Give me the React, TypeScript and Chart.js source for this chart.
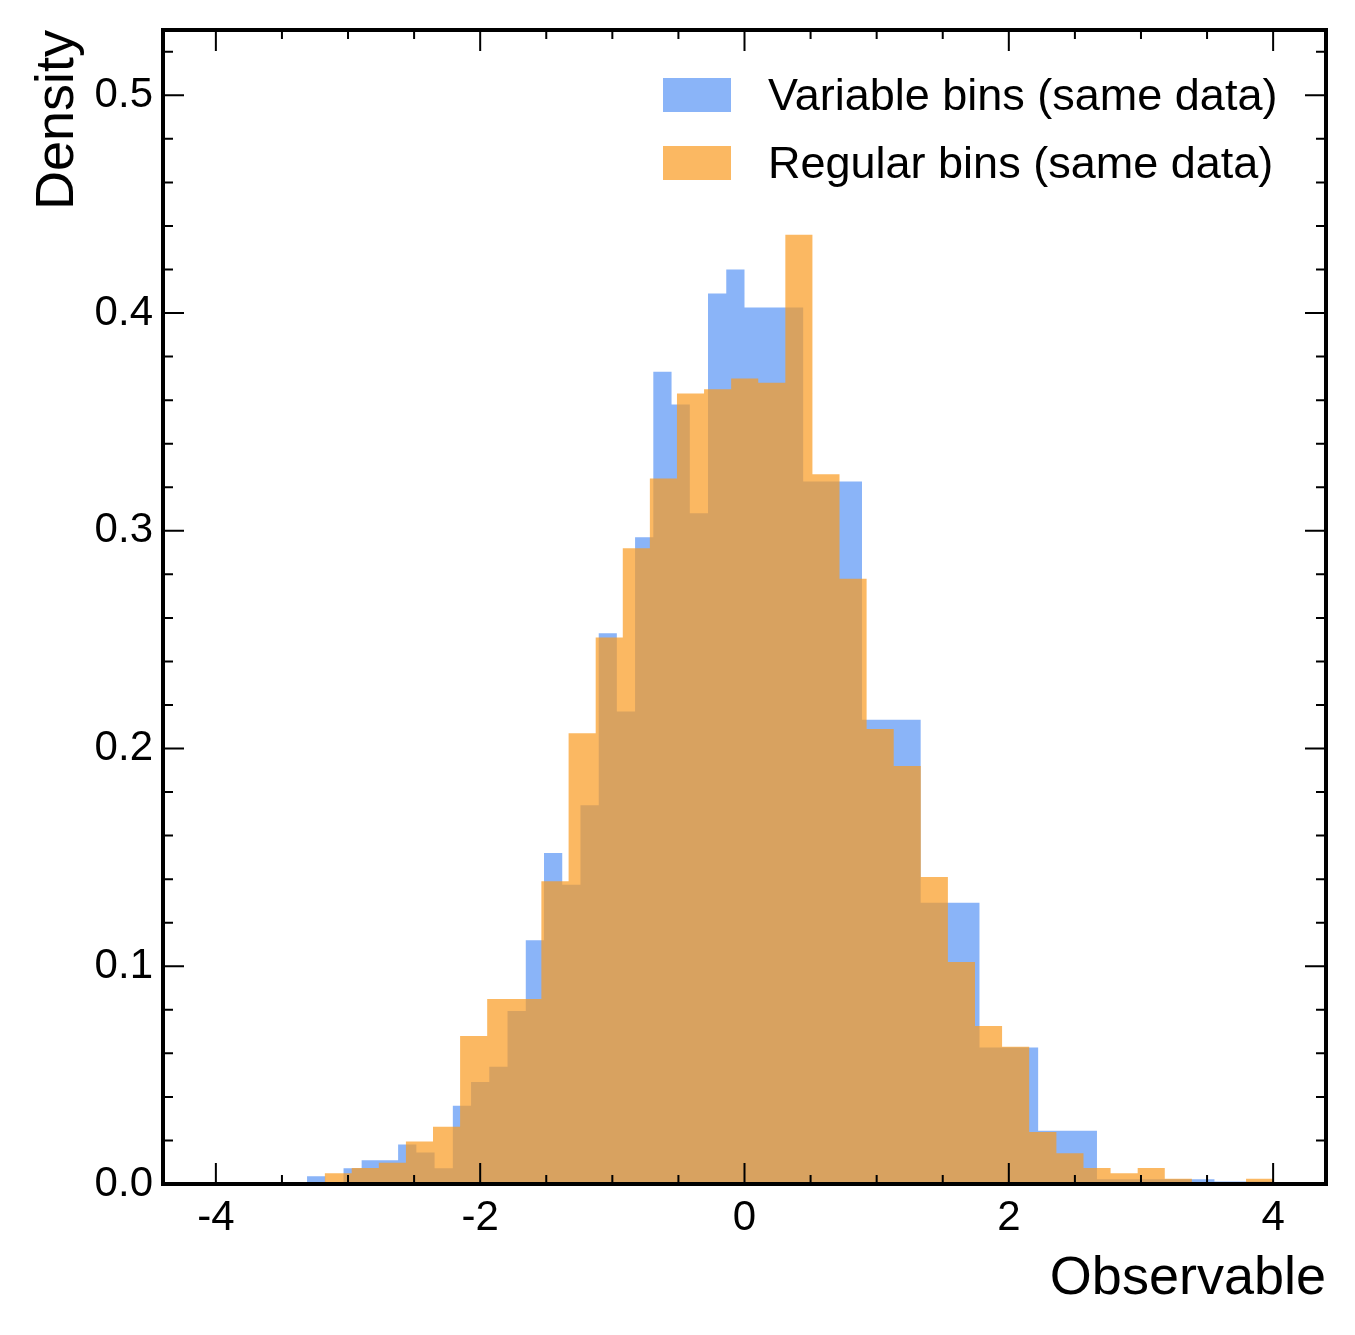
import { useEffect, useRef } from "react";
import { Chart, registerables } from "chart.js";

Chart.register(...registerables);

// variable binning: fine steps left of zero, coarse steps right of zero
const variableEdges = [
  -4.0, -3.862, -3.724, -3.586, -3.448, -3.31, -3.172, -3.034, -2.897, -2.759,
  -2.621, -2.483, -2.345, -2.207, -2.069, -1.931, -1.793, -1.655, -1.517, -1.379,
  -1.241, -1.103, -0.966, -0.828, -0.69, -0.552, -0.414, -0.276, -0.138, 0.0,
  0.444, 0.889, 1.333, 1.778, 2.222, 2.667, 3.111, 3.556, 4.0,
];
const variableDensity = [
  0, 0, 0, 0, 0, 0.0036, 0, 0.0072, 0.0109, 0.0109,
  0.0181, 0.0145, 0.0072, 0.0359, 0.0469, 0.0538, 0.0795, 0.112, 0.152, 0.1374,
  0.174, 0.253, 0.217, 0.297, 0.373, 0.358, 0.308, 0.409, 0.42,
  0.4026, 0.3226, 0.2132, 0.1292, 0.0627, 0.0244, 0.0022, 0.0022, 0.0011,
];

// regular binning: 35 equal bins from data min to max
const regularEdges = [
  -3.177, -2.972, -2.767, -2.562, -2.357, -2.152, -1.947, -1.742, -1.537, -1.331,
  -1.126, -0.921, -0.716, -0.511, -0.306, -0.101, 0.104, 0.309, 0.514, 0.719,
  0.924, 1.129, 1.334, 1.539, 1.744, 1.949, 2.154, 2.36, 2.565, 2.77,
  2.975, 3.18, 3.385, 3.59, 3.795, 4.0,
];
const regularDensity = [
  0.0049, 0.0073, 0.0098, 0.0195, 0.0263, 0.068, 0.085, 0.085, 0.139, 0.207,
  0.251, 0.292, 0.324, 0.363, 0.365, 0.37, 0.368, 0.436, 0.326, 0.278,
  0.209, 0.192, 0.141, 0.102, 0.0726, 0.063, 0.0239, 0.0141, 0.0073, 0.0049,
  0.0073, 0.0024, 0, 0, 0.0024,
];

const xTicks = [-4, -2, 0, 2, 4];
const yTicks = [0, 0.1, 0.2, 0.3, 0.4, 0.5];
const seriesLabels = ["Variable bins (same data)", "Regular bins (same data)"];

const BLUE = "#8ab4f8";
const ORANGE = "rgba(249, 154, 31, 0.7)";
const FONT = "'Liberation Sans', Arial, Helvetica, sans-serif";

function stepPoints(edges: number[], density: number[]) {
  const pts = density.map((d, i) => ({ x: edges[i], y: d }));
  pts.push({ x: edges[edges.length - 1], y: 0 });
  return pts;
}

const framePlugin = {
  id: "frame",
  afterDraw(chart: any) {
    const { ctx, chartArea } = chart;
    const { left, right, top, bottom } = chartArea;
    const xs = chart.scales.x;
    const ys = chart.scales.y;
    ctx.save();
    ctx.strokeStyle = "#000";
    ctx.lineWidth = 2;

    const vTick = (px: number, len: number) => {
      ctx.beginPath();
      ctx.moveTo(px, bottom);
      ctx.lineTo(px, bottom - len);
      ctx.moveTo(px, top);
      ctx.lineTo(px, top + len);
      ctx.stroke();
    };
    const hTick = (py: number, len: number) => {
      ctx.beginPath();
      ctx.moveTo(left, py);
      ctx.lineTo(left + len, py);
      ctx.moveTo(right, py);
      ctx.lineTo(right - len, py);
      ctx.stroke();
    };

    for (let v = -4; v <= 4.001; v += 0.5) {
      const major = xTicks.some((t) => Math.abs(t - v) < 1e-6);
      vTick(xs.getPixelForValue(v), major ? 21 : 9);
    }
    for (let i = 1; i <= 26; i++) {
      const v = i * 0.02;
      const major = yTicks.some((t) => Math.abs(t - v) < 1e-6);
      hTick(ys.getPixelForValue(v), major ? 21 : 10);
    }

    ctx.lineWidth = 4;
    ctx.strokeRect(left, top, right - left, bottom - top);

    // legend
    const colors = [BLUE, ORANGE];
    ctx.font = `45px ${FONT}`;
    ctx.textBaseline = "middle";
    ctx.textAlign = "left";
    seriesLabels.forEach((label, i) => {
      const y = 78 + i * 68;
      ctx.fillStyle = colors[i];
      ctx.fillRect(663, y, 68, 34);
      ctx.fillStyle = "#000";
      ctx.fillText(label, 768, y + 20);
    });

    // axis titles
    ctx.fillStyle = "#000";
    ctx.font = `54px ${FONT}`;
    ctx.textBaseline = "alphabetic";
    ctx.textAlign = "right";
    ctx.fillText("Observable", right, 1294);
    ctx.translate(73, top);
    ctx.rotate(-Math.PI / 2);
    ctx.fillText("Density", 0, 0);
    ctx.restore();
  },
};

export default function App() {
  const canvasRef = useRef<HTMLCanvasElement>(null);

  useEffect(() => {
    if (!canvasRef.current) return;
    const tickFont = { family: FONT, size: 42 };

    const chart = new Chart(canvasRef.current, {
      type: "line",
      data: {
        datasets: [
          {
            label: seriesLabels[0],
            data: stepPoints(variableEdges, variableDensity),
            backgroundColor: BLUE,
            borderColor: "rgba(0,0,0,0)",
            borderWidth: 0,
            pointRadius: 0,
            stepped: "before",
            fill: "origin",
            order: 2,
          },
          {
            label: seriesLabels[1],
            data: stepPoints(regularEdges, regularDensity),
            backgroundColor: ORANGE,
            borderColor: "rgba(0,0,0,0)",
            borderWidth: 0,
            pointRadius: 0,
            stepped: "before",
            fill: "origin",
            order: 1,
          },
        ],
      },
      options: {
        responsive: false,
        animation: false,
        events: [],
        layout: { padding: { top: 30, right: 29, left: 0, bottom: 0 } },
        plugins: {
          legend: { display: false },
          tooltip: { enabled: false },
        },
        scales: {
          x: {
            type: "linear",
            min: -4.4,
            max: 4.4,
            grid: { display: false, drawTicks: false },
            border: { display: false },
            afterBuildTicks: (s: any) => {
              s.ticks = xTicks.map((v) => ({ value: v }));
            },
            afterFit: (s: any) => {
              s.height = 151;
              s.paddingLeft = 0;
              s.paddingRight = 0;
              s.paddingTop = 0;
              s.paddingBottom = 0;
            },
            ticks: {
              color: "#000",
              font: tickFont,
              padding: 9,
              maxRotation: 0,
              autoSkip: false,
              callback: (v: any) => String(v),
            },
          },
          y: {
            type: "linear",
            min: 0,
            max: 0.53,
            grid: { display: false, drawTicks: false },
            border: { display: false },
            afterBuildTicks: (s: any) => {
              s.ticks = yTicks.map((v) => ({ value: v }));
            },
            afterFit: (s: any) => {
              s.width = 163;
              s.paddingLeft = 0;
              s.paddingRight = 0;
              s.paddingTop = 0;
              s.paddingBottom = 0;
            },
            ticks: {
              color: "#000",
              font: tickFont,
              padding: 10,
              autoSkip: false,
              callback: (v: any) => Number(v).toFixed(1),
            },
          },
        },
      },
      plugins: [framePlugin],
    });

    return () => {
      chart.destroy();
    };
  }, []);

  return (
    <div style={{ position: "absolute", left: 0, top: 0, width: 1355, height: 1335, background: "#fff" }}>
      <canvas ref={canvasRef} width={1355} height={1335} />
    </div>
  );
}
